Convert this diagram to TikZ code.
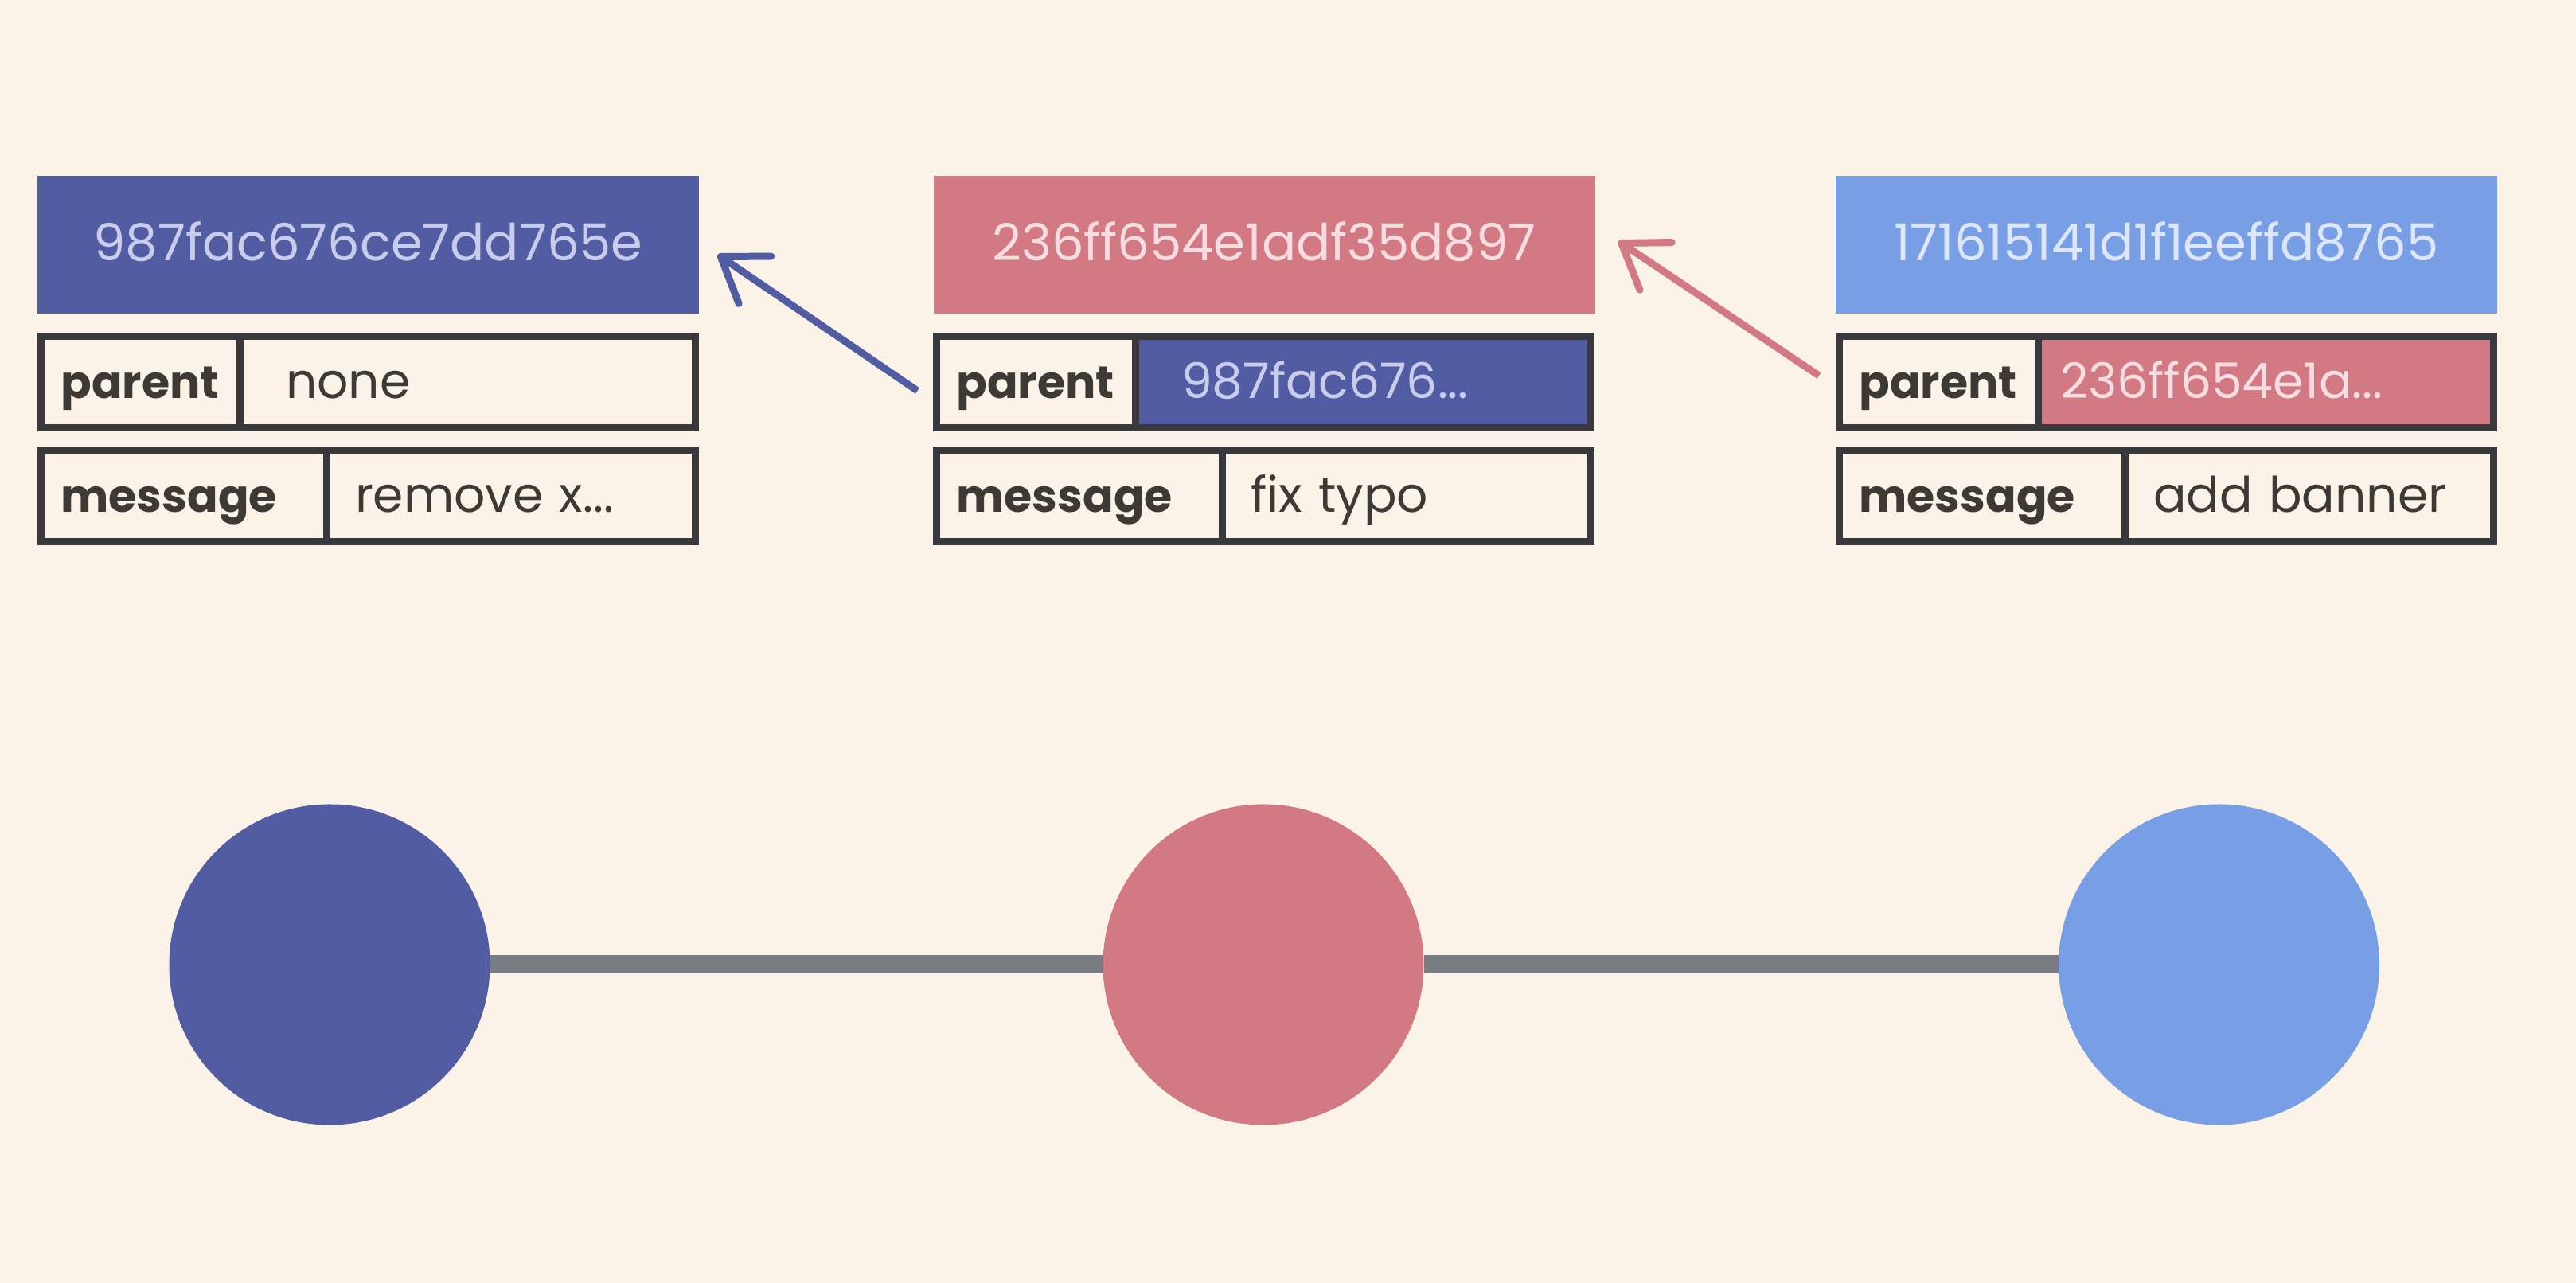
\documentclass[tikz,border=0pt]{standalone}
\usepackage{fontspec}
\setmainfont{Poppins}
\usetikzlibrary{positioning,arrows.meta}
\definecolor{paper}{HTML}{FBF3E7}
\definecolor{cblue}{HTML}{525CA3}
\definecolor{cpink}{HTML}{D27983}
\definecolor{clight}{HTML}{789EE5}
\definecolor{frame}{HTML}{38383D}
\definecolor{ink}{HTML}{3D3A36}
\definecolor{edgegray}{HTML}{7A7C84}
\definecolor{tblue}{HTML}{C9CCEA}
\definecolor{tpink}{HTML}{F6DDE2}
\definecolor{tlight}{HTML}{DDE6FA}
\begin{document}
\begin{tikzpicture}[
    hash/.style={rectangle, minimum width=8.31cm, minimum height=1.73cm, inner sep=0pt, text height=0.4cm, text depth=0cm, font=\fontsize{18.2}{18.2}\selectfont},
    cell/.style={rectangle, draw=frame, line width=0.09cm, outer sep=0pt, minimum height=1.15cm, inner ysep=0pt, anchor=west, align=left, text height=0.42cm, text depth=0cm, text=ink, font=\fontsize{17.5}{17.5}\selectfont},
    key/.style={cell, inner xsep=0.25cm, font=\bfseries\fontsize{16.2}{16.2}\selectfont},
    commit/.style={circle, minimum size=4.03cm, inner sep=0pt, outer sep=0pt},
    link/.style={line width=0.09cm, -{Straight Barb[length=0.52cm, width=0.72cm, round]}}
]
\fill[paper] (0,0) rectangle (32.36,16.12);

% Commit 1
\node[hash, fill=cblue, text=tblue] (hash1) at (4.625, 13.045) {987fac676ce7dd765e};
\node[key, text width=1.995cm] (par1) at (0.515, 11.32) {parent};
\node[cell, inner xsep=0.58cm, text width=4.565cm, right=0pt of par1] (pval1) {none};
\node[key, text width=3.085cm] (msg1) at (0.515, 9.89) {message};
\node[cell, inner xsep=0.36cm, text width=3.915cm, right=0pt of msg1] (mval1) {remove x...};

% Commit 2
\node[hash, fill=cpink, text=tpink] (hash2) at (15.88, 13.045) {236ff654e1adf35d897};
\node[key, text width=1.995cm] (par2) at (11.765, 11.32) {parent};
\node[cell, inner xsep=0.58cm, text width=4.565cm, fill=cblue, text=tblue, right=0pt of par2] (pval2) {987fac676...};
\node[key, text width=3.085cm] (msg2) at (11.765, 9.89) {message};
\node[cell, inner xsep=0.36cm, text width=3.915cm, right=0pt of msg2] (mval2) {fix typo};

% Commit 3
\node[hash, fill=clight, text=tlight] (hash3) at (27.215, 13.045) {171615141d1f1eeffd8765};
\node[key, text width=1.995cm] (par3) at (23.105, 11.32) {parent};
\node[cell, inner xsep=0.28cm, text width=5.165cm, fill=cpink, text=tpink, right=0pt of par3] (pval3) {236ff654e1a...};
\node[key, text width=3.085cm] (msg3) at (23.105, 9.89) {message};
\node[cell, inner xsep=0.36cm, text width=3.915cm, right=0pt of msg3] (mval3) {add banner};

% Parent pointers
\draw[link, cblue] ([xshift=-0.24cm, yshift=-0.11cm]par2.west) -- ([xshift=0.23cm, yshift=-0.125cm]hash1.east);
\draw[link, cpink] ([xshift=-0.255cm, yshift=0.08cm]par3.west) -- ([xshift=0.29cm, yshift=0.045cm]hash2.east);

% History line
\node[commit, fill=cblue] (c1) at (4.14, 4) {};
\node[commit, fill=cpink] (c2) at (15.87, 4) {};
\node[commit, fill=clight] (c3) at (27.875, 4) {};
\draw[edgegray, line width=0.23cm] (c1) -- (c2);
\draw[edgegray, line width=0.23cm] (c2) -- (c3);

\end{tikzpicture}
\end{document}
